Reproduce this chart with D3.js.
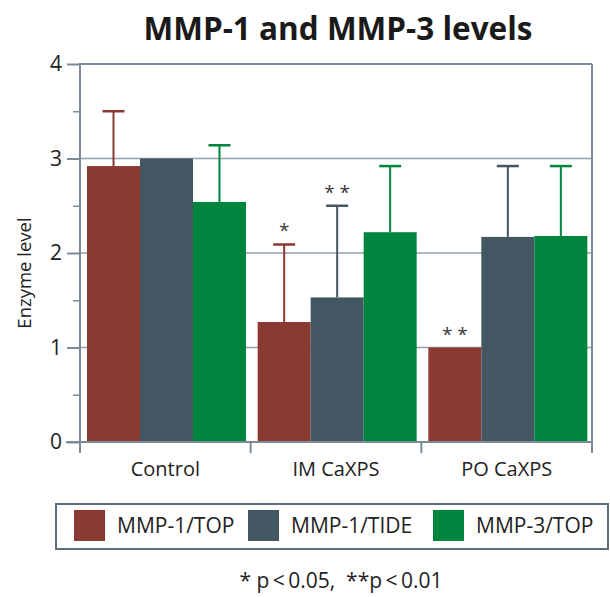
<!DOCTYPE html>
<html>
<head>
<meta charset="utf-8">
<script src="https://cdn.jsdelivr.net/npm/d3@7"></script>
<style>
  body { margin: 0; background: #fff; }
  svg { display: block; font-family: "Open Sans", sans-serif; }
</style>
</head>
<body>
<script>
// chart data
const groups = ["Control", "IM CaXPS", "PO CaXPS"];
const seriesNames = ["MMP-1/TOP", "MMP-1/TIDE", "MMP-3/TOP"];
const mmp1Top = [2.92, 1.27, 1.00];
const mmp1Tide = [3.00, 1.53, 2.17];
const mmp3Top = [2.54, 2.22, 2.18];
// upper end of error bars (null = none drawn)
const mmp1TopErr = [3.50, 2.09, null];
const mmp1TideErr = [null, 2.50, 2.92];
const mmp3TopErr = [3.14, 2.92, 2.92];
// significance marks: [group, series, label]
const marks = [["IM CaXPS", 0, "*"], ["IM CaXPS", 1, "* *"], ["PO CaXPS", 0, "* *"]];
const yTicks = [0, 1, 2, 3, 4];
const yMinor = [0.5, 1.5, 2.5, 3.5];

const colors = ["#8a3a30", "#435763", "#00853f"];
const axisCol = "#7c8b96";

const W = 610, H = 597;
const pLeft = 80, pRight = 592, pTop = 64, pBottom = 442;

const svg = d3.select("body").append("svg").attr("width", W).attr("height", H);

const values = [mmp1Top, mmp1Tide, mmp3Top];
const errs = [mmp1TopErr, mmp1TideErr, mmp3TopErr];

const x = d3.scaleBand().domain(groups).range([pLeft, pRight]).padding(0);
const xs = d3.scaleBand().domain(d3.range(3)).range([7, 7 + 159]).padding(0);
const y = d3.scaleLinear().domain([0, 4]).range([pBottom, pTop]);

// gridlines
svg.append("g").selectAll("line").data(yTicks.filter(d => d > 0 && d < 4)).enter()
  .append("line")
  .attr("x1", pLeft).attr("x2", pRight)
  .attr("y1", d => y(d)).attr("y2", d => y(d))
  .attr("stroke", "#95a1aa").attr("stroke-width", 1.5);

// bars
const rows = [];
groups.forEach((g, gi) => values.forEach((vals, si) => {
  rows.push({ g: g, s: si, v: vals[gi], e: errs[si][gi] });
}));

svg.append("g").selectAll("rect").data(rows).enter().append("rect")
  .attr("x", d => x(d.g) + xs(d.s))
  .attr("y", d => y(d.v))
  .attr("width", xs.bandwidth())
  .attr("height", d => y(0) - y(d.v))
  .attr("fill", d => colors[d.s]);

// error bars
const eb = svg.append("g").selectAll("g").data(rows.filter(d => d.e != null)).enter().append("g")
  .attr("stroke", d => colors[d.s]);
eb.append("line")
  .attr("x1", d => x(d.g) + xs(d.s) + xs.bandwidth() / 2)
  .attr("x2", d => x(d.g) + xs(d.s) + xs.bandwidth() / 2)
  .attr("y1", d => y(d.v)).attr("y2", d => y(d.e))
  .attr("stroke-width", 2);
eb.append("line")
  .attr("x1", d => x(d.g) + xs(d.s) + xs.bandwidth() / 2 - 11)
  .attr("x2", d => x(d.g) + xs(d.s) + xs.bandwidth() / 2 + 11)
  .attr("y1", d => y(d.e)).attr("y2", d => y(d.e))
  .attr("stroke-width", 2.5);

// significance asterisks
svg.append("g").selectAll("text").data(marks).enter().append("text")
  .attr("x", d => x(d[0]) + xs(d[1]) + xs.bandwidth() / 2)
  .attr("y", d => {
    const gi = groups.indexOf(d[0]);
    const e = errs[d[1]][gi];
    const t = e != null ? e : values[d[1]][gi];
    return y(t) - 7;
  })
  .attr("text-anchor", "middle")
  .attr("font-size", 19)
  .attr("fill", "#3a3a3a")
  .text(d => d[2]);

// frame: top and right
svg.append("line").attr("x1", pLeft).attr("x2", pRight).attr("y1", pTop).attr("y2", pTop)
  .attr("stroke", axisCol).attr("stroke-width", 2);
svg.append("line").attr("x1", pRight).attr("x2", pRight).attr("y1", pTop).attr("y2", pBottom)
  .attr("stroke", axisCol).attr("stroke-width", 2);

// y axis
const yAxis = svg.append("g").attr("transform", `translate(${pLeft},0)`)
  .call(d3.axisLeft(y).tickValues(yTicks).tickFormat(d3.format("d")).tickSize(13).tickPadding(5));
yAxis.select(".domain").remove();
yAxis.selectAll("line").attr("stroke", axisCol).attr("stroke-width", 2);
yAxis.selectAll("text").attr("font-size", 21).attr("fill", "#222")
  .attr("font-family", "Open Sans, sans-serif");

const yMin = svg.append("g").attr("transform", `translate(${pLeft},0)`)
  .call(d3.axisLeft(y).tickValues(yMinor).tickFormat("").tickSize(7));
yMin.select(".domain").remove();
yMin.selectAll("line").attr("stroke", axisCol).attr("stroke-width", 1.5);

svg.append("line").attr("x1", pLeft).attr("x2", pLeft).attr("y1", pTop - 1).attr("y2", pBottom + 11)
  .attr("stroke", axisCol).attr("stroke-width", 2);

// x axis
const xAxis = svg.append("g").attr("transform", `translate(0,${pBottom})`)
  .call(d3.axisBottom(x).tickSize(0).tickPadding(20));
xAxis.select(".domain").remove();
xAxis.selectAll("text").attr("font-size", 20).attr("fill", "#222")
  .attr("font-family", "Open Sans, sans-serif");
svg.append("line").attr("x1", pLeft - 14).attr("x2", pRight).attr("y1", pBottom).attr("y2", pBottom)
  .attr("stroke", axisCol).attr("stroke-width", 2);
svg.append("g").selectAll("line").data(groups.slice(1).map(g => x(g)).concat([pRight])).enter()
  .append("line")
  .attr("x1", d => d).attr("x2", d => d)
  .attr("y1", pBottom).attr("y2", pBottom + 11)
  .attr("stroke", axisCol).attr("stroke-width", 2);

// y label
svg.append("text")
  .attr("transform", "translate(31,273) rotate(-90)")
  .attr("text-anchor", "middle")
  .attr("font-size", 18.5).attr("fill", "#222")
  .text("Enzyme level");

// title
svg.append("text")
  .attr("x", 338).attr("y", 40)
  .attr("text-anchor", "middle")
  .attr("font-size", 31.5).attr("font-weight", "bold").attr("fill", "#1a1a1a")
  .text("MMP-1 and MMP-3 levels");

// legend
const lg = svg.append("g");
lg.append("rect").attr("x", 56).attr("y", 504).attr("width", 552).attr("height", 45)
  .attr("fill", "none").attr("stroke", "#5d6d78").attr("stroke-width", 2);
const legX = [74, 248, 433];
const li = lg.selectAll("g").data(seriesNames).enter().append("g")
  .attr("transform", (d, i) => `translate(${legX[i]},510)`);
li.append("rect").attr("width", 31).attr("height", 31).attr("fill", (d, i) => colors[i]);
li.append("text").attr("x", 43).attr("y", 23)
  .attr("font-size", 21).attr("fill", "#222")
  .text(d => d);

// footnote
svg.append("text")
  .attr("x", 341).attr("y", 588)
  .attr("text-anchor", "middle")
  .attr("font-size", 21).attr("fill", "#222")
  .text("* p\u2009<\u20090.05,  **p\u2009<\u20090.01")
  .attr("xml:space", "preserve")
  .style("white-space", "pre");
</script>
</body>
</html>
